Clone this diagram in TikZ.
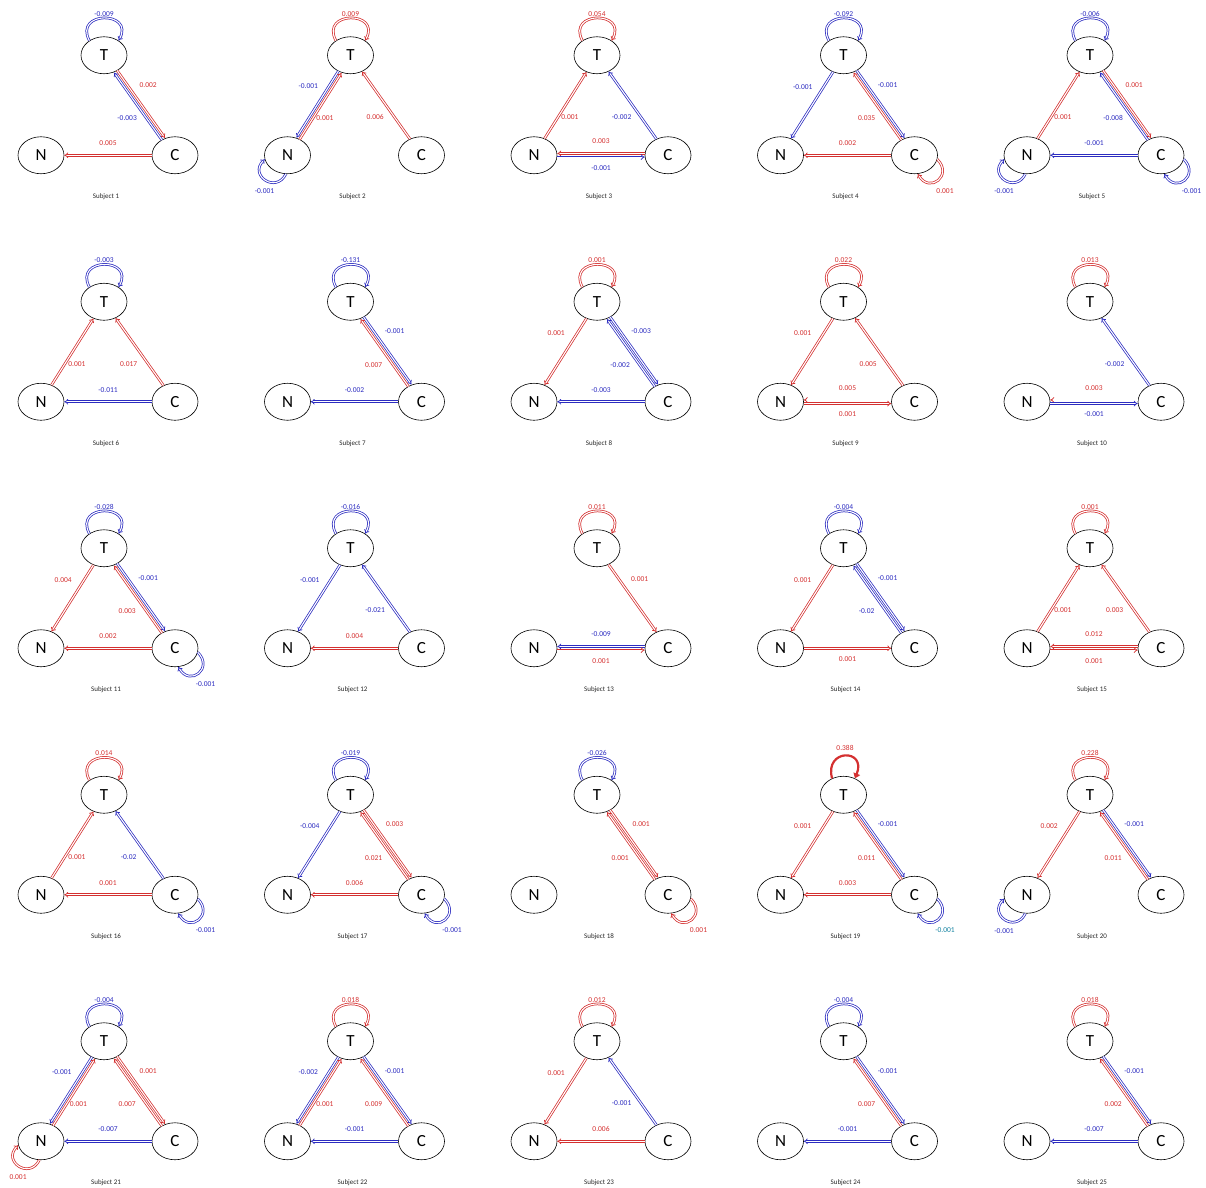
\documentclass[tikz,border=0pt]{standalone}
\usepackage{fontspec}
\setmainfont{Carlito}
\usetikzlibrary{arrows.meta,shapes.geometric}

\definecolor{posred}{RGB}{212,48,48}
\definecolor{negblue}{RGB}{44,44,192}
\definecolor{tealblue}{RGB}{20,130,160}

\tikzset{
  varnode/.style={ellipse, draw, line width=0.6pt, minimum width=46pt, minimum height=37pt, inner sep=0pt, font=\fontsize{17}{17}\selectfont},
  subjlbl/.style={font=\fontsize{7}{8}\selectfont, text=black!85},
  link/.style={double, double distance=1.1pt, line width=0.75pt, -{Implies}},
  poslink/.style={link, draw=posred, text=posred},
  neglink/.style={link, draw=negblue, text=negblue},
  lbl/.style={font=\fontsize{7.5}{8}\selectfont, inner sep=0pt},
  % offsets for two edges between the same pair
  pairTC/.style={transform canvas={shift={(1.5,1.05)}}},
  pairCT/.style={transform canvas={shift={(-1.5,-1.05)}}},
  pairTN/.style={transform canvas={shift={(-1.5,0.95)}}},
  pairNT/.style={transform canvas={shift={(1.5,-0.95)}}},
  pairCN/.style={transform canvas={shift={(0,1.8)}}},
  pairNC/.style={transform canvas={shift={(0,-1.8)}}},
  % label places
  lTC/.style={lbl, pos=0.21, xshift=21pt},
  lCT/.style={lbl, pos=0.32, xshift=-19.5pt},
  lTN/.style={lbl, pos=0.22, xshift=-21pt},
  lNT/.style={lbl, pos=0.32, xshift=12pt},
  lCN/.style={lbl, pos=0.5, yshift=12pt},
  lNC/.style={lbl, pos=0.5, yshift=-11pt},
  lT/.style={lbl, midway, yshift=4.5pt},
  lC/.style={lbl, midway, xshift=7pt, yshift=-11pt},
  lN/.style={lbl, midway, xshift=-1pt, yshift=-11pt}
}

\begin{document}
\begin{tikzpicture}[x=1pt, y=1pt]
\useasboundingbox (0,0) rectangle (1206,-1187);

\foreach \k in {1,...,25}{
  \pgfmathsetmacro\ox{246.5*mod(\k-1,5)}
  \pgfmathsetmacro\oy{-246.5*floor((\k-1)/5)}
  \node[varnode] (T\k) at (\ox+104,\oy-55.25) {T};
  \node[varnode] (N\k) at (\ox+41,\oy-155.25) {N};
  \node[varnode] (C\k) at (\ox+175,\oy-155.25) {C};
  \node[subjlbl] (S\k) at (\ox+106,\oy-197) {Subject \k};
}

% Subject 1
\draw[neglink] (T1.135) .. controls +(-16,30) and +(16,30) .. (T1.45) node[lT] {-0.009};
\draw[poslink, pairTC] (T1) -- (C1) node[lTC] {0.002};
\draw[neglink, pairCT] (C1) -- (T1) node[lCT] {-0.003};
\draw[poslink] (C1) -- (N1) node[lCN] {0.005};

% Subject 2
\draw[poslink] (T2.135) .. controls +(-16,30) and +(16,30) .. (T2.45) node[lT] {0.009};
\draw[neglink, pairTN] (T2) -- (N2) node[lTN] {-0.001};
\draw[poslink, pairNT] (N2) -- (T2) node[lNT] {0.001};
\draw[poslink] (C2) -- (T2) node[lCT] {0.006};
\draw[neglink] (N2.265) .. controls +(-10,-20) and +(-16,-16) .. (N2.190) node[lN] {-0.001};

% Subject 3
\draw[poslink] (T3.135) .. controls +(-16,30) and +(16,30) .. (T3.45) node[lT] {0.054};
\draw[poslink] (N3) -- (T3) node[lNT] {0.001};
\draw[neglink] (C3) -- (T3) node[lCT] {-0.002};
\draw[poslink, pairCN] (C3) -- (N3) node[lCN] {0.003};
\draw[neglink, pairNC] (N3) -- (C3) node[lNC] {-0.001};

% Subject 4
\draw[neglink] (T4.135) .. controls +(-16,30) and +(16,30) .. (T4.45) node[lT] {-0.092};
\draw[neglink] (T4) -- (N4) node[lTN] {-0.001};
\draw[neglink, pairTC] (T4) -- (C4) node[lTC] {-0.001};
\draw[poslink, pairCT] (C4) -- (T4) node[lCT] {0.035};
\draw[poslink] (C4) -- (N4) node[lCN] {0.002};
\draw[poslink] (C4.350) .. controls +(16,-16) and +(12,-20) .. (C4.280) node[lC] {0.001};

% Subject 5
\draw[neglink] (T5.135) .. controls +(-16,30) and +(16,30) .. (T5.45) node[lT] {-0.006};
\draw[poslink] (N5) -- (T5) node[lNT] {0.001};
\draw[poslink, pairTC] (T5) -- (C5) node[lTC] {0.001};
\draw[neglink, pairCT] (C5) -- (T5) node[lCT] {-0.008};
\draw[neglink] (C5) -- (N5) node[lCN] {-0.001};
\draw[neglink] (N5.265) .. controls +(-10,-20) and +(-16,-16) .. (N5.190) node[lN] {-0.001};
\draw[neglink] (C5.350) .. controls +(16,-16) and +(12,-20) .. (C5.280) node[lC] {-0.001};

% Subject 6
\draw[neglink] (T6.135) .. controls +(-16,30) and +(16,30) .. (T6.45) node[lT] {-0.003};
\draw[poslink] (N6) -- (T6) node[lNT] {0.001};
\draw[poslink] (C6) -- (T6) node[lCT] {0.017};
\draw[neglink] (C6) -- (N6) node[lCN] {-0.011};

% Subject 7
\draw[neglink] (T7.135) .. controls +(-16,30) and +(16,30) .. (T7.45) node[lT] {-0.131};
\draw[neglink, pairTC] (T7) -- (C7) node[lTC] {-0.001};
\draw[poslink, pairCT] (C7) -- (T7) node[lCT] {0.007};
\draw[neglink] (C7) -- (N7) node[lCN] {-0.002};

% Subject 8
\draw[poslink] (T8.135) .. controls +(-16,30) and +(16,30) .. (T8.45) node[lT] {0.001};
\draw[poslink] (T8) -- (N8) node[lTN] {0.001};
\draw[neglink, pairTC] (T8) -- (C8) node[lTC] {-0.003};
\draw[neglink, pairCT] (C8) -- (T8) node[lCT] {-0.002};
\draw[neglink] (C8) -- (N8) node[lCN] {-0.003};

% Subject 9
\draw[poslink] (T9.135) .. controls +(-16,30) and +(16,30) .. (T9.45) node[lT] {0.022};
\draw[poslink] (T9) -- (N9) node[lTN] {0.001};
\draw[poslink] (C9) -- (T9) node[lCT] {0.005};
\draw[poslink, pairCN] (C9) -- (N9) node[lCN] {0.005};
\draw[poslink, pairNC] (N9) -- (C9) node[lNC] {0.001};

% Subject 10
\draw[poslink] (T10.135) .. controls +(-16,30) and +(16,30) .. (T10.45) node[lT] {0.013};
\draw[neglink] (C10) -- (T10) node[lCT] {-0.002};
\draw[poslink, pairCN] (C10) -- (N10) node[lCN] {0.003};
\draw[neglink, pairNC] (N10) -- (C10) node[lNC] {-0.001};

% Subject 11
\draw[neglink] (T11.135) .. controls +(-16,30) and +(16,30) .. (T11.45) node[lT] {-0.028};
\draw[poslink] (T11) -- (N11) node[lTN] {0.004};
\draw[neglink, pairTC] (T11) -- (C11) node[lTC] {-0.001};
\draw[poslink, pairCT] (C11) -- (T11) node[lCT] {0.003};
\draw[poslink] (C11) -- (N11) node[lCN] {0.002};
\draw[neglink] (C11.350) .. controls +(16,-16) and +(12,-20) .. (C11.280) node[lC] {-0.001};

% Subject 12
\draw[neglink] (T12.135) .. controls +(-16,30) and +(16,30) .. (T12.45) node[lT] {-0.016};
\draw[neglink] (T12) -- (N12) node[lTN] {-0.001};
\draw[neglink] (C12) -- (T12) node[lCT] {-0.021};
\draw[poslink] (C12) -- (N12) node[lCN] {0.004};

% Subject 13
\draw[poslink] (T13.135) .. controls +(-16,30) and +(16,30) .. (T13.45) node[lT] {0.011};
\draw[poslink] (T13) -- (C13) node[lTC] {0.001};
\draw[neglink, pairCN] (C13) -- (N13) node[lCN] {-0.009};
\draw[poslink, pairNC] (N13) -- (C13) node[lNC] {0.001};

% Subject 14
\draw[neglink] (T14.135) .. controls +(-16,30) and +(16,30) .. (T14.45) node[lT] {-0.004};
\draw[poslink] (T14) -- (N14) node[lTN] {0.001};
\draw[neglink, pairTC] (T14) -- (C14) node[lTC] {-0.001};
\draw[neglink, pairCT] (C14) -- (T14) node[lCT] {-0.02};
\draw[poslink] (N14) -- (C14) node[lNC] {0.001};

% Subject 15
\draw[poslink] (T15.135) .. controls +(-16,30) and +(16,30) .. (T15.45) node[lT] {0.001};
\draw[poslink] (N15) -- (T15) node[lNT] {0.001};
\draw[poslink] (C15) -- (T15) node[lCT] {0.003};
\draw[poslink, pairCN] (C15) -- (N15) node[lCN] {0.012};
\draw[poslink, pairNC] (N15) -- (C15) node[lNC] {0.001};

% Subject 16
\draw[poslink] (T16.135) .. controls +(-16,30) and +(16,30) .. (T16.45) node[lT] {0.014};
\draw[poslink] (N16) -- (T16) node[lNT] {0.001};
\draw[neglink] (C16) -- (T16) node[lCT] {-0.02};
\draw[poslink] (C16) -- (N16) node[lCN] {0.001};
\draw[neglink] (C16.350) .. controls +(16,-16) and +(12,-20) .. (C16.280) node[lC] {-0.001};

% Subject 17
\draw[neglink] (T17.135) .. controls +(-16,30) and +(16,30) .. (T17.45) node[lT] {-0.019};
\draw[neglink] (T17) -- (N17) node[lTN] {-0.004};
\draw[poslink, pairTC] (T17) -- (C17) node[lTC] {0.003};
\draw[poslink, pairCT] (C17) -- (T17) node[lCT] {0.021};
\draw[poslink] (C17) -- (N17) node[lCN] {0.006};
\draw[neglink] (C17.350) .. controls +(16,-16) and +(12,-20) .. (C17.280) node[lC] {-0.001};

% Subject 18
\draw[neglink] (T18.135) .. controls +(-16,30) and +(16,30) .. (T18.45) node[lT] {-0.026};
\draw[poslink, pairTC] (T18) -- (C18) node[lTC] {0.001};
\draw[poslink, pairCT] (C18) -- (T18) node[lCT] {0.001};
\draw[poslink] (C18.350) .. controls +(16,-16) and +(12,-20) .. (C18.280) node[lC] {0.001};

% Subject 19
\draw[posred, text=posred, line width=2.2pt, -{Triangle[length=5pt, width=7pt]}] (T19.125) .. controls +(-8,30) and +(12,30) .. (T19.55) node[lbl, midway, yshift=8pt] {0.388};
\draw[poslink] (T19) -- (N19) node[lTN] {0.001};
\draw[neglink, pairTC] (T19) -- (C19) node[lTC] {-0.001};
\draw[poslink, pairCT] (C19) -- (T19) node[lCT] {0.011};
\draw[poslink] (C19) -- (N19) node[lCN] {0.003};
\draw[neglink] (C19.350) .. controls +(16,-16) and +(12,-20) .. (C19.280) node[lC, text=tealblue] {-0.001};

% Subject 20
\draw[poslink] (T20.135) .. controls +(-16,30) and +(16,30) .. (T20.45) node[lT] {0.228};
\draw[poslink] (T20) -- (N20) node[lTN] {0.002};
\draw[neglink, pairTC] (T20) -- (C20) node[lTC] {-0.001};
\draw[poslink, pairCT] (C20) -- (T20) node[lCT] {0.011};
\draw[neglink] (N20.265) .. controls +(-10,-20) and +(-16,-16) .. (N20.190) node[lN] {-0.001};

% Subject 21
\draw[neglink] (T21.135) .. controls +(-16,30) and +(16,30) .. (T21.45) node[lT] {-0.004};
\draw[neglink, pairTN] (T21) -- (N21) node[lTN] {-0.001};
\draw[poslink, pairNT] (N21) -- (T21) node[lNT] {0.001};
\draw[poslink, pairTC] (T21) -- (C21) node[lTC] {0.001};
\draw[poslink, pairCT] (C21) -- (T21) node[lCT] {0.007};
\draw[neglink] (C21) -- (N21) node[lCN] {-0.007};
\draw[poslink] (N21.265) .. controls +(-10,-20) and +(-16,-16) .. (N21.190) node[lN] {0.001};

% Subject 22
\draw[poslink] (T22.135) .. controls +(-16,30) and +(16,30) .. (T22.45) node[lT] {0.018};
\draw[neglink, pairTN] (T22) -- (N22) node[lTN] {-0.002};
\draw[poslink, pairNT] (N22) -- (T22) node[lNT] {0.001};
\draw[neglink, pairTC] (T22) -- (C22) node[lTC] {-0.001};
\draw[poslink, pairCT] (C22) -- (T22) node[lCT] {0.009};
\draw[neglink] (C22) -- (N22) node[lCN] {-0.001};

% Subject 23
\draw[poslink] (T23.135) .. controls +(-16,30) and +(16,30) .. (T23.45) node[lT] {0.012};
\draw[poslink] (T23) -- (N23) node[lTN] {0.001};
\draw[neglink] (C23) -- (T23) node[lCT] {-0.001};
\draw[poslink] (C23) -- (N23) node[lCN] {0.006};

% Subject 24
\draw[neglink] (T24.135) .. controls +(-16,30) and +(16,30) .. (T24.45) node[lT] {-0.004};
\draw[neglink, pairTC] (T24) -- (C24) node[lTC] {-0.001};
\draw[poslink, pairCT] (C24) -- (T24) node[lCT] {0.007};
\draw[neglink] (C24) -- (N24) node[lCN] {-0.001};

% Subject 25
\draw[poslink] (T25.135) .. controls +(-16,30) and +(16,30) .. (T25.45) node[lT] {0.018};
\draw[neglink, pairTC] (T25) -- (C25) node[lTC] {-0.001};
\draw[poslink, pairCT] (C25) -- (T25) node[lCT] {0.002};
\draw[neglink] (C25) -- (N25) node[lCN] {-0.007};

\end{tikzpicture}
\end{document}
